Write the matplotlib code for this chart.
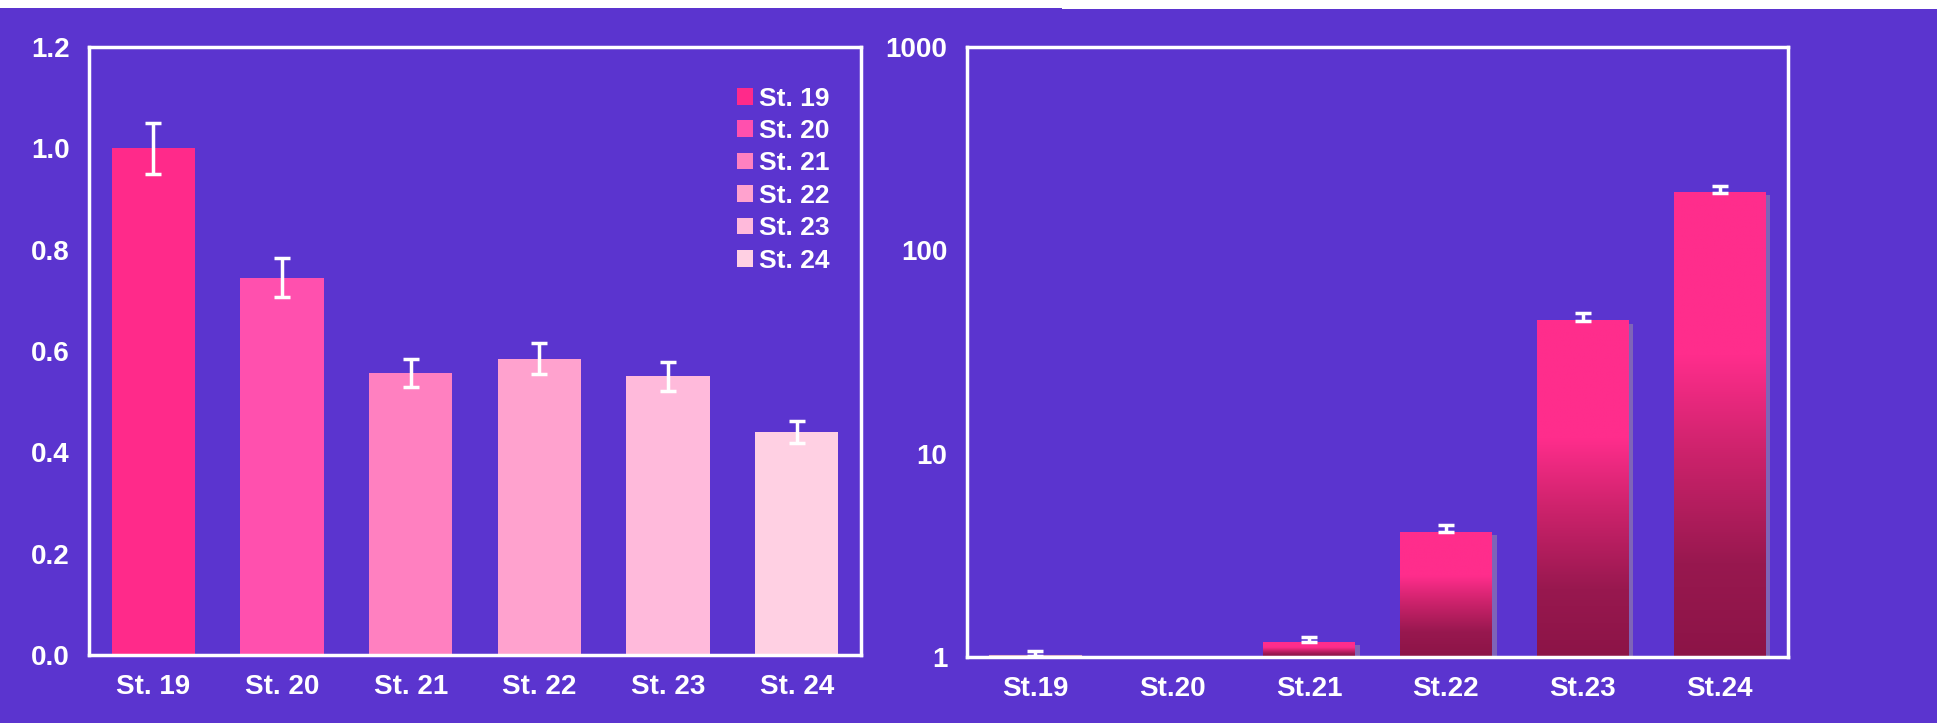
import numpy as np
import matplotlib
matplotlib.use("Agg")
import matplotlib.pyplot as plt
from matplotlib.colors import LinearSegmentedColormap
from matplotlib.patches import Rectangle

# left panel: relative expression
stages = ["St. 19", "St. 20", "St. 21", "St. 22", "St. 23", "St. 24"]
left_vals = [1.0, 0.745, 0.557, 0.585, 0.55, 0.44]
left_err = [0.05, 0.038, 0.028, 0.03, 0.028, 0.022]
left_colors = ["#FF2A8A", "#FF50AE", "#FF80C0", "#FFA2CE", "#FFBADB", "#FFD0E3"]

# right panel: fold change, log scale
right_labels = ["St.19", "St.20", "St.21", "St.22", "St.23", "St.24"]
right_vals = [1.01, 1.0, 1.18, 4.1, 45.0, 192.0]
right_err = [0.06, 0.0, 0.08, 0.35, 4.0, 16.0]

bg = "#5B34CF"
plt.rcParams["font.family"] = ["Liberation Sans", "DejaVu Sans"]
plt.rcParams["font.weight"] = "bold"

fig = plt.figure(figsize=(19.37, 7.23), dpi=100, facecolor=bg)
W, H = 1937, 723

# white strip along the top edge
fig.patches.append(Rectangle((0, 1 - 8 / H), 1062 / W, 8 / H, transform=fig.transFigure,
                             facecolor="white", edgecolor="none"))
fig.patches.append(Rectangle((1062 / W, 1 - 9 / H), 1 - 1062 / W, 9 / H, transform=fig.transFigure,
                             facecolor="white", edgecolor="none"))

ax1 = fig.add_axes([89 / W, 1 - 655 / H, (861 - 89) / W, (655 - 47) / H])
ax2 = fig.add_axes([967 / W, 1 - 657 / H, (1788 - 967) / W, (657 - 47) / H])

for ax in (ax1, ax2):
    ax.set_facecolor(bg)
    for s in ax.spines.values():
        s.set_color("white")
        s.set_linewidth(2.5)
    ax.tick_params(length=0, pad=14, labelcolor="white", labelsize=20)
    ax.tick_params(axis="y", which="minor", length=0)

# ---- left panel
x = np.arange(len(stages))
bars = ax1.bar(x, left_vals, width=0.65, color=left_colors, zorder=2)
ax1.errorbar(x, left_vals, yerr=left_err, fmt="none", ecolor="white",
             elinewidth=2.5, capsize=5.5, capthick=2.5, zorder=3)
ax1.set_xlim(-0.5, 5.5)
ax1.set_ylim(0, 1.2)
ax1.set_yticks(np.arange(0, 1.21, 0.2))
ax1.set_yticklabels([f"{v:.1f}" for v in np.arange(0, 1.21, 0.2)])
ax1.set_xticks(x)
ax1.set_xticklabels(stages)
for lb in ax1.get_xticklabels() + ax1.get_yticklabels():
    lb.set_fontweight("bold")
leg = ax1.legend(bars, stages, loc="upper left", bbox_to_anchor=(0.839, 0.935),
                 frameon=False, fontsize=19, handlelength=0.6, handleheight=0.6,
                 handletextpad=0.25, labelspacing=0.32, borderaxespad=0, borderpad=0)
for t in leg.get_texts():
    t.set_color("white")
    t.set_fontweight("bold")

# ---- right panel
cmap = LinearSegmentedColormap.from_list(
    "pinkgrad", [(0.0, "#8C1447"), (0.2, "#98184F"), (0.45, "#CF236D"),
                 (0.65, "#FF2D8C"), (1.0, "#FF2D8C")])
grad = np.linspace(0, 1, 256).reshape(-1, 1)
xr = np.arange(len(right_labels))
ax2.set_yscale("log")
ax2.set_xlim(-0.5, 5.5)
ax2.set_ylim(1, 1000)
bw = 0.67
for xi, v in zip(xr, right_vals):
    if v <= 1.0:
        continue
    if v < 1.05:
        # nearly flat bar: just a thin line on the baseline
        ax2.bar(xi, v - 1, bottom=1, width=bw, color="#D9A6BE",
                edgecolor="#D9A6BE", linewidth=1.5, zorder=2)
        continue
    ax2.bar(xi + 0.035, v * 0.97 - 1, bottom=1, width=bw, color="#7E64B8", zorder=1.5)
    # gradient drawn in axes space so it stays linear on screen
    x0 = (xi - bw / 2 + 0.5) / 6
    x1 = (xi + bw / 2 + 0.5) / 6
    top = np.log10(v) / 3
    ax2.imshow(grad, extent=(x0, x1, 0, top), transform=ax2.transAxes,
               aspect="auto", cmap=cmap, origin="lower", zorder=2,
               interpolation="bilinear")
err_lo = np.zeros(len(right_err))
mask = np.array(right_err) > 0
ax2.errorbar(xr[mask], np.array(right_vals)[mask],
             yerr=[err_lo[mask], np.array(right_err)[mask]], fmt="none",
             ecolor="white", elinewidth=2.5, capsize=5.5, capthick=2.5, zorder=3)
ax2.set_xlim(-0.5, 5.5)
ax2.set_ylim(1, 1000)
ax2.set_yticks([1, 10, 100, 1000])
ax2.set_yticklabels(["1", "10", "100", "1000"])
ax2.yaxis.set_minor_locator(matplotlib.ticker.NullLocator())
ax2.set_xticks(xr)
ax2.set_xticklabels(right_labels)
for lb in ax2.get_xticklabels() + ax2.get_yticklabels():
    lb.set_fontweight("bold")

fig.savefig("out.png", dpi=100, facecolor=bg)
